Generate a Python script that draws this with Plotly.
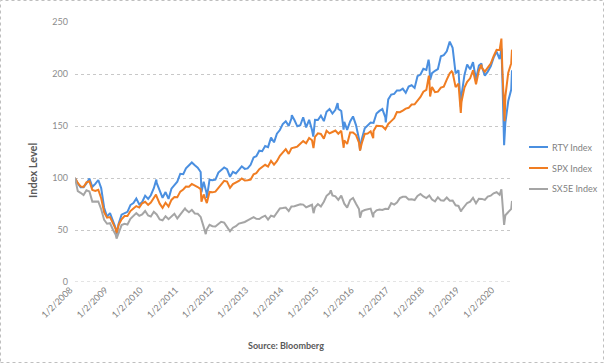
import pandas as pd
import plotly.graph_objects as go

# Month-end observation dates (Jan 2008 .. May 2020), plus start and end dates
month_ends = [d.strftime("%Y-%m-%d") for d in pd.date_range("2008-01-31", "2020-05-31", freq="ME")]
start_date = "2008-01-02"
end_date = "2020-06-08"

spx_monthly = [
    95.2, 91.9, 91.4, 95.8, 96.8, 88.5, 87.6, 88.7, 80.6, 67.0, 61.9, 62.4,
    57.1, 50.8, 55.1, 60.3, 63.5, 63.5, 68.2, 70.6, 73.0, 71.6, 75.7, 77.1,
    74.2, 76.3, 80.8, 82.0, 75.3, 71.3, 76.2, 72.5, 78.9, 81.8, 81.6, 86.9,
    88.9, 91.7, 91.6, 94.3, 93.0, 91.3, 89.3, 84.2, 78.2, 86.6, 86.2, 86.9,
    90.7, 94.4, 97.3, 96.6, 90.5, 94.1, 95.3, 97.2, 99.6, 97.6, 97.9, 98.5,
    103.5, 104.7, 108.4, 110.4, 112.7, 111.0, 116.5, 112.9, 116.2, 121.4, 124.8, 127.7,
    123.2, 128.5, 129.4, 130.2, 133.0, 135.5, 133.4, 138.4, 136.3, 139.5, 142.9, 142.3,
    137.9, 145.5, 142.9, 144.2, 145.6, 142.6, 145.4, 136.3, 132.7, 143.7, 143.7, 141.3,
    134.1, 133.5, 142.4, 142.7, 144.9, 145.1, 150.2, 150.0, 149.8, 146.9, 152.0, 154.7,
    157.5, 163.4, 163.3, 164.8, 166.7, 167.5, 170.7, 170.8, 174.1, 178.0, 183.0, 184.8,
    195.0, 187.6, 182.5, 183.0, 186.9, 187.8, 194.6, 200.6, 201.5, 187.4, 190.7, 173.3,
    186.9, 192.4, 195.9, 203.6, 190.2, 203.3, 206.0, 202.2, 205.7, 210.0, 217.1, 223.3,
    222.9, 204.1, 178.6, 201.2, 210.4,
]
spx_extra_dates = ["2009-03-09", "2010-04-23", "2011-08-08", "2011-10-03", "2014-10-15",
                   "2015-08-25", "2016-02-11", "2016-06-27", "2018-01-26", "2018-02-08",
                   "2018-09-20", "2018-12-24", "2019-07-26", "2020-02-19", "2020-03-23"]
spx_extra_vals = [46.8, 84.1, 77.3, 75.9, 128.7, 129.1, 126.4, 138.3, 198.5, 178.4,
                  202.6, 162.5, 209.1, 234.0, 154.6]

rty_monthly = [
    94.7, 91.1, 91.2, 94.8, 99.5, 91.5, 94.3, 98.1, 90.3, 71.4, 62.8, 66.3,
    58.8, 51.8, 56.2, 64.7, 66.5, 67.5, 74.0, 76.0, 80.2, 74.6, 76.9, 83.0,
    79.9, 83.4, 90.2, 95.2, 87.9, 81.0, 86.5, 79.9, 89.8, 93.4, 96.5, 104.1,
    103.7, 109.3, 112.0, 114.9, 112.2, 110.0, 105.8, 96.4, 85.5, 98.4, 97.9, 98.4,
    105.2, 107.6, 110.2, 108.4, 101.1, 106.0, 104.4, 107.8, 111.2, 108.8, 109.2, 112.7,
    119.8, 121.0, 126.3, 125.8, 130.7, 129.7, 138.8, 134.3, 142.6, 146.1, 151.8, 154.6,
    150.1, 157.1, 155.8, 149.7, 150.7, 158.4, 148.7, 155.9, 146.2, 155.9, 155.8, 160.0,
    154.7, 163.7, 166.4, 162.0, 165.6, 166.5, 164.4, 153.9, 146.2, 154.3, 159.2, 150.9,
    137.5, 137.3, 147.9, 150.2, 153.3, 153.0, 162.0, 164.5, 166.3, 158.3, 175.6, 180.2,
    180.9, 184.2, 184.1, 185.9, 181.9, 187.9, 189.2, 186.6, 197.9, 199.5, 205.0, 203.9,
    209.0, 200.8, 203.1, 204.8, 217.0, 218.2, 221.8, 231.1, 225.2, 200.7, 203.6, 179.2,
    199.1, 209.2, 204.5, 211.3, 194.7, 208.1, 207.0, 198.5, 202.3, 207.4, 215.8, 221.5,
    214.3, 196.0, 153.1, 174.0, 185.1,
]
rty_extra_dates = ["2009-03-09", "2010-04-26", "2011-08-08", "2011-10-03", "2014-03-04",
                   "2014-10-13", "2015-06-23", "2015-08-24", "2016-02-11", "2016-11-04",
                   "2018-01-23", "2018-02-08", "2018-12-24", "2019-07-26", "2020-02-20",
                   "2020-03-18"]
rty_extra_vals = [45.6, 98.5, 86.3, 80.9, 160.4, 139.8, 172.1, 146.5, 126.6, 153.5,
                  213.8, 194.3, 168.3, 210.1, 224.4, 131.6]

sx5e_monthly = [
    87.4, 85.8, 83.6, 88.2, 87.0, 77.3, 77.6, 77.5, 70.0, 59.7, 56.0, 56.5,
    50.3, 45.5, 47.7, 54.7, 55.9, 55.3, 60.8, 63.9, 66.2, 63.6, 65.0, 68.3,
    64.0, 62.9, 67.5, 64.9, 60.1, 59.3, 63.2, 60.4, 63.3, 65.6, 61.1, 64.4,
    68.1, 69.4, 67.1, 69.4, 65.9, 65.6, 62.6, 53.0, 50.2, 55.0, 53.7, 53.4,
    55.7, 57.9, 57.1, 53.1, 48.8, 52.2, 53.6, 56.2, 56.6, 57.7, 59.3, 60.7,
    62.3, 60.7, 60.5, 62.5, 63.8, 60.0, 63.8, 62.7, 66.7, 70.7, 71.1, 71.6,
    68.2, 72.6, 72.9, 73.7, 74.8, 74.4, 71.8, 73.1, 74.3, 71.8, 74.9, 72.5,
    77.2, 82.9, 85.2, 83.3, 82.3, 78.9, 83.0, 75.3, 71.5, 78.8, 80.8, 75.3,
    70.2, 67.9, 69.2, 69.8, 70.6, 66.0, 68.9, 69.7, 69.2, 70.4, 70.3, 75.8,
    74.4, 76.5, 80.7, 82.0, 81.9, 79.3, 79.5, 78.8, 82.8, 84.7, 82.3, 80.7,
    83.2, 79.2, 77.5, 81.5, 78.5, 78.2, 81.2, 78.2, 78.3, 73.7, 73.1, 69.1,
    72.8, 76.0, 77.2, 81.0, 75.6, 80.0, 79.9, 79.0, 82.2, 83.0, 85.3, 86.3,
    83.9, 76.7, 64.2, 67.5, 70.3,
]
sx5e_extra_dates = ["2009-03-09", "2011-02-18", "2011-09-22", "2014-10-16", "2015-04-13",
                    "2016-02-11", "2016-06-27", "2018-12-27", "2020-02-19", "2020-03-18"]
sx5e_extra_vals = [41.7, 70.7, 46.0, 66.2, 88.2, 61.8, 62.2, 67.7, 89.1, 55.0]

end_vals = {"RTY Index": 203.5, "SPX Index": 223.4, "SX5E Index": 78.0}

year_ticks = [f"{y}-01-02" for y in range(2008, 2021)]
year_labels = [f"1/2/{y}" for y in range(2008, 2021)]


def build(monthly, extra_dates, extra_vals, last):
    s = pd.Series([100.0] + monthly + extra_vals + [last],
                  index=pd.to_datetime([start_date] + month_ends + extra_dates + [end_date]))
    return s.sort_index()


series = [
    ("RTY Index", build(rty_monthly, rty_extra_dates, rty_extra_vals, end_vals["RTY Index"]), "#4A8FE0"),
    ("SPX Index", build(spx_monthly, spx_extra_dates, spx_extra_vals, end_vals["SPX Index"]), "#F07D22"),
    ("SX5E Index", build(sx5e_monthly, sx5e_extra_dates, sx5e_extra_vals, end_vals["SX5E Index"]), "#A5A5A5"),
]

PW, PH = 437.0, 260.0  # plot area size in px (for legend placement in paper coords)

fig = go.Figure()
annotations = [
    dict(text="<b>Index Level</b>", xref="paper", yref="paper", x=0, xshift=-43,
         y=(282 - 171) / PH, textangle=-90, showarrow=False,
         font=dict(size=11, color="#595959"), xanchor="center", yanchor="middle"),
    dict(text="<b>Source: Bloomberg</b>", xref="paper", yref="paper", x=0, xshift=211,
         y=0, yshift=-63, showarrow=False,
         font=dict(size=9, color="#595959"), xanchor="center", yanchor="middle"),
]
shapes = [
    dict(type="rect", xref="paper", yref="paper",
         x0=-74.5 / PW, x1=(603.5 - 75) / PW, y0=-(362.5 - 282) / PH, y1=(282 - 0.5) / PH,
         line=dict(color="#BFBFBF", width=1, dash="dot"), fillcolor="rgba(0,0,0,0)", layer="below"),
    dict(type="line", xref="paper", yref="y", x0=0, x1=1, y0=0, y1=0,
         line=dict(color="#C8C8C8", width=1, dash="dot"), layer="below"),
]

for i, (name, s, color) in enumerate(series):
    fig.add_trace(go.Scatter(x=s.index, y=s.values, name=name, mode="lines",
                             line=dict(color=color, width=2), showlegend=False))
    ly = (282 - (147 + 21 * i)) / PH
    shapes.append(dict(type="line", xref="paper", yref="paper",
                       x0=(529 - 75) / PW, x1=(548 - 75) / PW, y0=ly, y1=ly,
                       line=dict(color=color, width=2)))
    annotations.append(dict(text=name, xref="paper", yref="paper",
                            x=(550 - 75) / PW, y=ly, xanchor="left", yanchor="middle",
                            showarrow=False, font=dict(size=9, color="#7F7F7F")))

fig.update_layout(
    width=604, height=363,
    margin=dict(l=75, r=92, t=22, b=81, autoexpand=False),
    paper_bgcolor="white", plot_bgcolor="white",
    font=dict(family="Lato, Liberation Sans, sans-serif", color="#7F7F7F", size=9),
    showlegend=False,
    xaxis=dict(type="date", range=[start_date, end_date], tickvals=year_ticks,
               ticktext=year_labels, tickangle=-45, showgrid=False, zeroline=False,
               showline=False, ticks="", automargin=False, ticklabelshift=-5,
               tickfont=dict(size=9, color="#7F7F7F")),
    yaxis=dict(range=[0, 250], dtick=50, showgrid=True, gridcolor="#C8C8C8",
               griddash="dot", gridwidth=1, zeroline=False, showline=False,
               ticks="", ticklabelstandoff=6, automargin=False,
               tickfont=dict(size=9, color="#8C8C8C")),
    annotations=annotations,
    shapes=shapes,
)

fig.write_html("out.html", config={"displayModeBar": False},
               post_script="document.body.style.margin='0';document.body.style.overflow='hidden';")
